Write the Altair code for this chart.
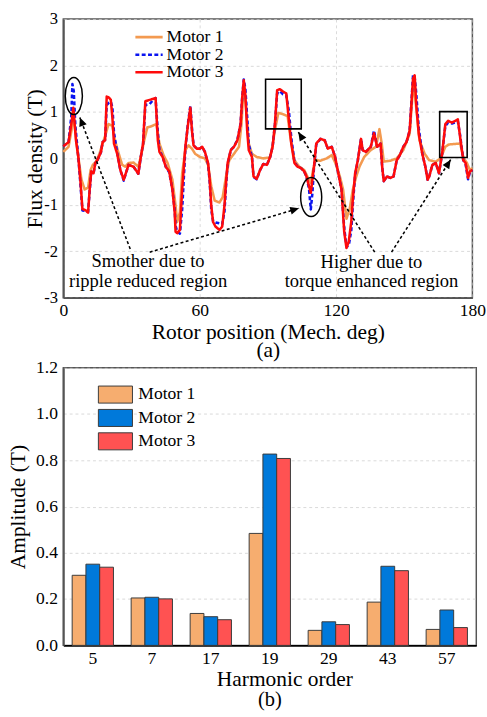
import math
import altair as alt
import pandas as pd

FONT = "Liberation Serif, Times New Roman, Times, serif"

# ---------------- Panel (a): flux density waveforms ----------------
m1_deg = [0, 2.3, 3.7, 4.4, 5.6, 6.6, 8.0, 9.4, 10.9, 12.0, 13.0, 14.4, 15.9, 17.3, 18.7, 19.9, 21.6, 22.7,
          24.4, 25.9, 27.3, 28.7, 30.9, 33.0, 34.4, 35.6, 37.0, 38.7, 40.9, 42.3, 44.1, 45.9, 48.0, 49.4,
          50.1, 51.3, 52.3, 53.7, 55.1, 56.6, 58.0, 60.1, 62.3, 63.7, 65.1, 66.6, 68.7, 70.1, 71.6, 73.0,
          75.1, 77.3, 78.4, 79.4, 80.4, 81.6, 83.0, 85.1, 88.0, 90.9, 91.7, 93.1, 94.6, 96.7, 98.7, 99.9,
          101.7, 103.9, 106.0, 107.4, 108.9, 109.9, 111.0, 113.1, 115.9, 118.1, 119.7, 121.7, 123.1, 124.6,
          126.0, 127.4, 128.9, 130.3, 132.4, 135.3, 137.6, 139.1, 140.1, 141.0, 143.9, 146.7, 149.6, 152.4,
          154.1, 155.3, 156.7, 159.0, 161.0, 163.9, 166.0, 168.1, 169.6, 174.6, 176.0, 177.6, 178.9, 180.0]
m1_val = [0.14, 0.25, 0.63, 1.0, 0.42, 0.03, -0.46, -0.67, -0.63, -0.25, -0.14, -0.07, 0.1, 0.32, 0.53, 0.74,
          0.70, 0.39, 0.1, -0.14, -0.18, -0.1, -0.09, -0.18, 0.1, 0.39, 0.67, 0.69, 0.74, 0.32, 0.07, -0.1,
          -0.46, -1.02, -1.37, -1.16, -0.32, 0.18, 0.28, 0.21, 0.1, 0.03, 0.0, -0.14, -0.6, -0.91, -0.95,
          -0.84, -0.39, -0.04, 0.1, 0.25, 0.74, 1.58, 1.09, 0.32, 0.1, 0.03, 0.0, 0.02, 0.18, 0.6, 0.98,
          0.95, 0.91, 0.46, -0.04, -0.18, -0.25, -0.39, -0.53, -0.25, -0.04, -0.05, 0.0, 0.07, -0.1, -0.39,
          -0.67, -1.3, -1.09, -0.67, -0.39, -0.18, 0.03, 0.18, 0.25, 0.63, 0.32, -0.07, -0.05, 0.0, 0.18,
          0.53, 1.65, 1.09, 0.39, 0.1, -0.04, -0.07, 0.0, 0.25, 0.3, 0.32, 0.03, -0.1, -0.25, -0.21]

m2_deg = [0, 2.3, 3.5, 4.0, 4.6, 5.3, 6.6, 7.6, 8.4, 9.9, 10.9, 11.6, 12.3, 13.3, 14.1, 15.1, 16.6, 17.3,
          18.4, 19.1, 20.1, 20.9, 21.6, 22.3, 23.7, 25.1, 26.6, 27.3, 28.7, 30.9, 32.3, 33.0, 34.1, 35.1,
          36.1, 38.0, 39.4, 40.6, 41.6, 42.3, 43.7, 45.1, 46.6, 48.0, 49.0, 49.4, 50.1, 51.3, 52.3, 53.7,
          54.9, 55.9, 56.6, 57.3, 58.7, 60.1, 61.1, 62.3, 63.7, 64.4, 65.1, 65.9, 67.0, 68.7, 69.9, 70.9,
          71.6, 72.3, 73.7, 75.1, 76.6, 78.0, 78.7, 79.4, 80.1, 80.9, 81.6, 83.0, 83.7, 85.1, 86.6, 88.0,
          89.6, 91.0, 92.1, 93.1, 94.1, 95.3, 96.7, 98.1, 99.3, 100.3, 101.7, 103.1, 104.6, 106.0, 107.0,
          108.1, 108.9, 109.6, 110.3, 111.3, 113.1, 115.0, 116.4, 118.1, 119.6, 121.0, 122.4, 123.6, 124.6,
          125.6, 126.7, 127.4, 128.4, 129.6, 131.0, 131.7, 133.1, 135.3, 136.7, 138.1, 139.6, 140.3, 141.0,
          142.4, 143.9, 145.3, 146.7, 148.1, 149.6, 151.0, 152.4, 153.9, 154.6, 155.3, 156.4, 157.9, 159.3,
          160.3, 161.0, 162.4, 163.9, 165.3, 166.7, 168.1, 169.3, 171.0, 173.6, 174.6, 176.0, 177.0, 178.1,
          178.9, 180.0]
m2_val = [0.26, 0.35, 0.9, 1.6, 1.45, 0.7, 0.03, -0.6, -1.12, -1.13, -1.15, -0.7, -0.3, -0.32, -0.1, -0.03,
          0.14, 0.35, 0.4, 1.15, 1.2, 1.22, 1.1, 0.55, 0.12, -0.25, -0.48, -0.36, -0.14, -0.18, -0.28, -0.33,
          0.03, 0.32, 1.15, 1.17, 1.25, 1.3, 0.55, 0.18, 0.03, -0.18, -0.3, -0.67, -1.1, -1.45, -1.58, -1.62,
          -1.1, 0.2, 0.78, 1.13, 0.65, 0.28, 0.21, 0.21, 0.25, 0.14, -0.12, -0.5, -1.1, -1.35, -1.38, -1.4,
          -1.42, -1.15, -0.6, -0.12, 0.18, 0.25, 0.4, 0.75, 1.3, 1.7, 1.5, 0.9, 0.3, 0.03, -0.4, -0.45, -0.25,
          -0.12, -0.14, 0.03, 0.25, 0.72, 1.4, 1.45, 1.38, 1.36, 1.0, 0.45, -0.08, -0.18, -0.21, -0.28, -0.4,
          -0.65, -1.1, -0.75, -0.2, 0.3, 0.42, 0.39, 0.21, 0.25, 0.03, -0.32, -0.67, -1.5, -1.9, -1.88, -1.55,
          -1.0, -0.35, -0.04, 0.42, 0.18, 0.14, 0.25, 0.6, 0.25, 0.32, -0.18, -0.49, -0.39, -0.42, -0.39,
          -0.04, 0.07, 0.25, 0.35, 0.6, 1.8, 1.75, 1.4, 0.65, 0.12, -0.18, -0.46, -0.39, -0.14, -0.1, -0.32,
          0.11, 0.7, 0.77, 0.75, 0.8, 0.5, -0.04, -0.12, -0.45, -0.3, -0.25]

m3_deg = [0, 2.3, 3.7, 4.4, 5.6, 6.6, 7.6, 8.4, 9.9, 10.9, 11.6, 12.3, 13.3, 14.1, 15.1, 16.6, 17.3, 18.4,
          19.1, 20.1, 20.9, 21.6, 22.3, 23.7, 25.1, 26.6, 27.3, 28.7, 30.9, 32.3, 33.0, 34.1, 35.1, 36.1,
          38.0, 39.4, 40.6, 41.6, 42.3, 43.7, 45.1, 46.6, 48.0, 49.0, 49.4, 50.1, 51.3, 52.3, 53.7, 54.9,
          55.9, 56.6, 57.3, 58.7, 60.1, 61.1, 62.3, 63.7, 64.4, 65.1, 65.9, 67.0, 68.7, 69.9, 70.9, 71.6,
          72.3, 73.7, 75.1, 76.6, 78.0, 78.7, 79.4, 80.1, 80.9, 81.6, 83.0, 83.7, 85.1, 86.6, 88.0, 89.6,
          91.0, 92.1, 93.1, 94.1, 95.3, 96.7, 98.1, 99.3, 100.3, 101.7, 103.1, 104.6, 106.0, 107.0, 108.1,
          108.9, 109.6, 110.3, 111.3, 113.1, 115.0, 116.4, 118.1, 119.6, 121.0, 122.4, 123.6, 124.6, 125.6,
          126.7, 127.4, 128.4, 129.6, 131.0, 131.7, 133.1, 135.3, 136.7, 138.1, 139.6, 140.3, 141.0, 142.4,
          143.9, 145.3, 146.7, 148.1, 149.6, 151.0, 152.4, 153.9, 154.6, 155.3, 156.4, 157.9, 159.3, 160.3,
          161.0, 162.4, 163.9, 165.3, 166.7, 168.1, 169.3, 171.0, 173.6, 174.6, 176.0, 177.0, 178.1, 178.9,
          180.0]
m3_val = [0.26, 0.35, 0.8, 1.09, 0.38, 0.03, -0.53, -1.09, -1.12, -1.17, -0.67, -0.28, -0.32, -0.1, -0.03,
          0.14, 0.35, 0.39, 1.33, 1.31, 1.26, 0.88, 0.32, 0.1, -0.25, -0.46, -0.35, -0.14, -0.18, -0.28, -0.33,
          0.03, 0.32, 1.23, 1.26, 1.28, 1.30, 0.39, 0.14, 0.03, -0.18, -0.28, -0.67, -1.16, -1.58, -1.61,
          -1.54, -0.67, 0.25, 0.74, 1.09, 0.6, 0.28, 0.21, 0.21, 0.25, 0.14, -0.1, -0.46, -1.02, -1.37,
          -1.47, -1.54, -1.47, -1.02, -0.53, -0.1, 0.18, 0.25, 0.39, 0.74, 1.3, 1.68, 1.37, 0.6, 0.18, 0.03,
          -0.39, -0.44, -0.25, -0.12, -0.14, 0.03, 0.25, 0.74, 1.47, 1.49, 1.44, 1.40, 0.81, 0.32, -0.1,
          -0.18, -0.21, -0.28, -0.39, -0.6, -0.74, -0.46, -0.18, 0.32, 0.42, 0.39, 0.21, 0.25, 0.03, -0.32,
          -0.67, -1.58, -1.93, -1.79, -1.37, -0.88, -0.32, -0.04, 0.42, 0.18, 0.14, 0.25, 0.54, 0.25, 0.32,
          -0.18, -0.49, -0.39, -0.42, -0.39, -0.04, 0.07, 0.25, 0.35, 0.6, 1.72, 1.79, 1.16, 0.53, 0.11,
          -0.18, -0.46, -0.39, -0.14, -0.1, -0.32, 0.11, 0.74, 0.81, 0.77, 0.84, 0.46, -0.04, -0.1, -0.42,
          -0.28, -0.25]

motors = ["Motor 1", "Motor 2", "Motor 3"]
line_colors = ["#F39A50", "#0A14F0", "#FF0A0A"]

# ---------------- Panel (b): harmonic amplitudes ----------------
harmonics = ["5", "7", "17", "19", "29", "43", "57"]
motor1_amp = [0.303, 0.205, 0.138, 0.484, 0.065, 0.187, 0.069]
motor2_amp = [0.351, 0.208, 0.124, 0.827, 0.102, 0.342, 0.153]
motor3_amp = [0.338, 0.201, 0.111, 0.808, 0.090, 0.323, 0.077]
bar_colors = ["#F6AD6F", "#0079DA", "#FF5252"]

# ---------------- annotations of panel (a), in data units ----------------
ellipse_deg = [4.63, 109.07]
ellipse_val = [1.343, -0.833]
box_deg = [89.0, 165.6]
box_deg2 = [104.7, 177.7]
box_val = [1.705, 1.007]
box_val2 = [0.635, 0.021]
arrow_from_deg = [29.44, 38.01, 137.01, 144.43]
arrow_from_val = [-1.951, -2.020, -2.020, -2.020]
arrow_to_deg = [7.29, 103.71, 103.41, 170.44]
arrow_to_val = [0.881, -1.076, 0.566, -0.028]
note_text = ["Smother due to", "ripple reduced region", "Higher due to", "torque enhanced region"]
note_deg = [37.3, 37.3, 135.6, 135.6]
note_val = [-2.22, -2.64, -2.245, -2.64]

W_A, H_A = 420, 286
W_B, H_B = 424, 285

rows = []
for name, dd, vv in zip(motors, [m1_deg, m2_deg, m3_deg], [m1_val, m2_val, m3_val]):
    for d, v in zip(dd, vv):
        rows.append({"deg": d, "flux": v, "motor": name})
lines_df = pd.DataFrame(rows)

color_a = alt.Scale(domain=motors, range=line_colors)
dash_a = alt.Scale(domain=motors, range=[[1, 0], [4, 2.5], [1, 0]])

xa = alt.X("deg:Q", scale=alt.Scale(domain=[0, 180], nice=False),
           axis=alt.Axis(values=[0, 60, 120, 180], title=["Rotor position (Mech. deg)", "(a)"],
                         labelFontSize=18, labelPadding=4, labelFlush=False, titlePadding=3,
                         titleFontSize=22, titleLineHeight=18, grid=True, ticks=False,
                         domainColor="#555555", domainWidth=1.5))
ya = alt.Y("flux:Q", scale=alt.Scale(domain=[-3, 3], nice=False),
           axis=alt.Axis(values=[-3, -2, -1, 0, 1, 2, 3], title="Flux density (T)",
                         labelExpr="'' + datum.value", labelFontSize=17, labelPadding=6,
                         titlePadding=-3, titleFontSize=22, grid=True, ticks=False,
                         domainColor="#555555", domainWidth=2))

leg_a = alt.Legend(orient="none", legendX=79, legendY=9.5, padding=0,
                   symbolType="M -2 0 L 2 0", symbolSize=196,
                   symbolStrokeWidth=2.6, labelFontSize=18, labelOffset=9,
                   rowPadding=0, labelFont=FONT)

lines = alt.Chart(lines_df).mark_line(strokeWidth=2.6, strokeJoin="round").encode(
    x=xa, y=ya,
    color=alt.Color("motor:N", scale=color_a, title=None, legend=leg_a),
    strokeDash=alt.StrokeDash("motor:N", scale=dash_a, title=None, legend=leg_a),
)

ell_df = pd.DataFrame({"deg": ellipse_deg, "flux": ellipse_val})
ell1 = alt.Chart(ell_df.iloc[[0]]).mark_point(
    shape="M 0 -1 A 0.463 1 0 1 1 0 1 A 0.463 1 0 1 1 0 -1 Z", size=1444, filled=False,
    stroke="black", strokeWidth=1.5, opacity=1).encode(x="deg:Q", y="flux:Q")
ell2 = alt.Chart(ell_df.iloc[[1]]).mark_point(
    shape="M 0 -1 A 0.54 1 0 1 1 0 1 A 0.54 1 0 1 1 0 -1 Z", size=1600, filled=False,
    stroke="black", strokeWidth=1.5, opacity=1).encode(x="deg:Q", y="flux:Q")

box_df = pd.DataFrame({"d1": box_deg, "d2": box_deg2, "v1": box_val, "v2": box_val2})
boxes = alt.Chart(box_df).mark_rect(fillOpacity=0, stroke="black", strokeWidth=1.6).encode(
    x="d1:Q", x2="d2", y="v1:Q", y2="v2")

# arrow angles from on-screen geometry
angles = []
for d0, v0, d1, v1 in zip(arrow_from_deg, arrow_from_val, arrow_to_deg, arrow_to_val):
    dx = (d1 - d0) / 180 * W_A
    dy = -(v1 - v0) / 6 * H_A
    angles.append(math.degrees(math.atan2(dx, -dy)) % 360)
arr_df = pd.DataFrame({"d0": arrow_from_deg, "v0": arrow_from_val,
                       "d1": arrow_to_deg, "v1": arrow_to_val, "ang": angles})
arrow_lines = alt.Chart(arr_df).mark_rule(strokeDash=[3, 2.5], strokeWidth=1.6, color="black").encode(
    x="d0:Q", y="v0:Q", x2="d1", y2="v1")
arrow_heads = alt.Chart(arr_df).mark_point(
    shape="M 0 0 L 0.45 1 L -0.45 1 Z", size=324, filled=True, color="black", opacity=1).encode(
    x="d1:Q", y="v1:Q", angle=alt.Angle("ang:Q", scale=None))

note_df = pd.DataFrame({"deg": note_deg, "flux": note_val, "t": note_text})
notes = alt.Chart(note_df).mark_text(fontSize=19, font=FONT, align="center", baseline="middle",
                                     color="black").encode(x="deg:Q", y="flux:Q", text="t:N")

top = alt.layer(lines, boxes, ell1, ell2, arrow_lines, arrow_heads, notes).properties(
    width=W_A, height=H_A)

# bar chart
brows = []
for name, amps in zip(motors, [motor1_amp, motor2_amp, motor3_amp]):
    for h, a in zip(harmonics, amps):
        brows.append({"harmonic": h, "amp": a, "motor": name})
bars_df = pd.DataFrame(brows)

bars = alt.Chart(bars_df).mark_bar(stroke="#3a3a3a", strokeWidth=1).encode(
    x=alt.X("harmonic:N", sort=harmonics,
            scale=alt.Scale(paddingInner=0.3, paddingOuter=0.15),
            axis=alt.Axis(title="Harmonic order", labelAngle=0, labelFontSize=18, labelPadding=5,
                          titlePadding=1, titleFontSize=22, titleX=227, ticks=False,
                          domainColor="black", domainWidth=2)),
    xOffset=alt.XOffset("motor:N", sort=motors, scale=alt.Scale(paddingInner=0, paddingOuter=0)),
    y=alt.Y("amp:Q", scale=alt.Scale(domain=[0, 1.2], nice=False),
            axis=alt.Axis(values=[0, 0.2, 0.4, 0.6, 0.8, 1.0, 1.2], format=".1f",
                          title="Amplitude (T)", labelFontSize=18, labelPadding=6, titlePadding=6,
                          titleFontSize=22, grid=True, ticks=False, domainColor="#555555",
                          domainWidth=2)),
    color=alt.Color("motor:N", scale=alt.Scale(domain=motors, range=bar_colors), title=None,
                    legend=alt.Legend(orient="none", legendX=44, legendY=18, padding=0,
                                      symbolType="M -2 -1 L 2 -1 L 2 1 L -2 1 Z", symbolSize=306,
                                      symbolStrokeColor="#3a3a3a", symbolStrokeWidth=1,
                                      symbolOpacity=1, labelFontSize=18, labelOffset=14,
                                      rowPadding=1, labelFont=FONT)),
).properties(
    width=W_B, height=H_B,
    title=alt.TitleParams("(b)", orient="bottom", anchor="middle", frame="group",
                          fontSize=21, font=FONT, fontWeight="normal", offset=0))

chart = alt.vconcat(alt.hconcat(top), alt.hconcat(bars), spacing=-3).resolve_scale(
    color="independent", strokeDash="independent"
).resolve_legend(color="independent", strokeDash="independent").properties(
    padding={"left": 6, "top": 0, "right": 0, "bottom": 0}
).configure_view(stroke="#555555", strokeWidth=1.5).configure_axis(
    labelFont=FONT, titleFont=FONT, labelColor="black", titleColor="black",
    titleFontWeight="normal", gridColor="#cfcfcf", gridDash=[3, 3], gridWidth=0.8
).configure_legend(labelFont=FONT, labelColor="black").configure_title(color="black")

chart.save("out.html", embed_options={"renderer": "svg", "actions": False})
